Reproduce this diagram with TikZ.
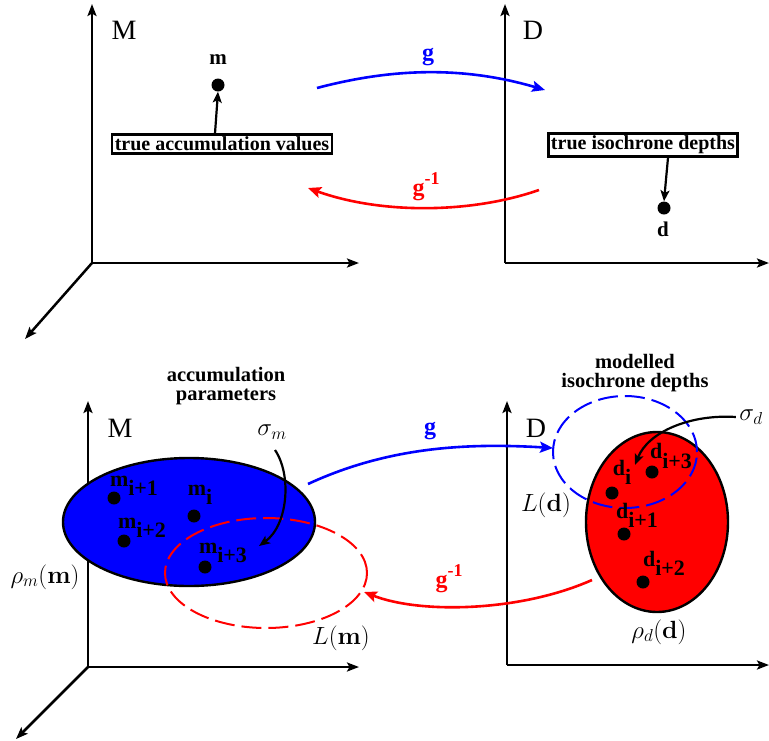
\documentclass[tikz,border=0pt]{standalone}
\usepackage[no-math]{fontspec}
\setmainfont{Liberation Serif}
\usetikzlibrary{arrows.meta,shapes.geometric}
\newcommand\bsub[2]{\textbf{#1}\raisebox{-0.42em}{\textbf{#2}}}
\newcommand\ginv{\textbf{g}\raisebox{0.45em}{\fontsize{18}{18}\selectfont\textbf{-1}}}
\begin{document}
\begin{tikzpicture}[x=1pt,y=-1pt,
  axis/.style={line width=2.5pt,-{Stealth[length=12pt,width=9pt,inset=2.5pt]}},
  pointer/.style={line width=2.2pt,-{Stealth[length=11pt,width=9pt,inset=2.5pt]}},
  map/.style={line width=2.6pt,-{Stealth[length=13pt,width=11pt,inset=2.5pt]}},
  dot/.style={circle,fill=black,inner sep=0pt,minimum size=13pt},
  lbox/.style={draw,line width=2.2pt,inner sep=2.5pt,font=\fontsize{20}{22}\selectfont\bfseries},
  axlab/.style={font=\fontsize{28}{30}\selectfont},
  ptlab/.style={font=\fontsize{21}{22}\selectfont},
  mlab/.style={font=\fontsize{22}{24}\selectfont},
  mathlab/.style={font=\fontsize{24}{26}\selectfont},
  title/.style={font=\fontsize{20.5}{19}\selectfont\bfseries,align=center}]
\useasboundingbox (0,0) rectangle (769,740);

% ---------------- top panel ----------------
\coordinate (o1) at (92,263);
\coordinate (o1y) at (92,4);
\coordinate (o1x) at (359,263);
\coordinate (o1z) at (25,339);
\draw[axis] (o1) -- (o1y);
\draw[axis] (o1) -- (o1x);
\draw[axis] (o1) -- (o1z);
\node[axlab] (M1) at (124,30) {M};

\coordinate (o2) at (505,263);
\coordinate (o2y) at (505,4);
\coordinate (o2x) at (769,263);
\draw[axis] (o2) -- (o2y);
\draw[axis] (o2) -- (o2x);
\node[axlab] (D1) at (533,30) {D};

\node[dot] (m) at (218,85) {};
\node[ptlab] (mlab) at (218,60) {\textbf{m}};
\node[lbox] (tav) at (222,144) {true accumulation values};
\draw[pointer] (tav.north -| 215,0) -- (m.south);

\node[dot] (d) at (664,208) {};
\node[ptlab] (dlab) at (663,229) {\textbf{d}};
\node[lbox] (tid) at (643,145) {true isochrone depths};
\draw[pointer] (tid.south -| 668,0) -- (d.north);

\coordinate (g1s) at (317,88);
\coordinate (g1e) at (545,90);
\draw[map,blue] (g1s) .. controls (400,66) and (470,68) .. (g1e);
\node[font=\fontsize{24}{24}\selectfont,text=blue] (g1) at (428,57) {\textbf{g}};

\coordinate (h1s) at (539,190);
\coordinate (h1e) at (308,188);
\draw[map,red] (h1s) .. controls (470,214) and (380,214) .. (h1e);
\node[font=\fontsize{24}{24}\selectfont,text=red] (h1) at (426,187) {\ginv};

% ---------------- bottom panel ----------------
\coordinate (o3) at (88,667);
\coordinate (o3y) at (88,401);
\coordinate (o3x) at (359,667);
\coordinate (o3z) at (16,739);
\draw[axis] (o3) -- (o3y);
\draw[axis] (o3) -- (o3x);
\draw[axis] (o3) -- (o3z);
\node[axlab] (M2) at (120,428) {M};
\node[title] (ap) at (226,386) {accumulation\\parameters};

\coordinate (o4) at (507,665);
\coordinate (o4y) at (507,401);
\coordinate (o4x) at (769,665);
\draw[axis] (o4) -- (o4y);
\draw[axis] (o4) -- (o4x);
\node[axlab] (D2) at (536,428) {D};
\node[title] (mid) at (635,373) {modelled\\isochrone depths};

% blue ellipse (prior in M)
\node[ellipse,draw,line width=2.4pt,fill=blue,minimum width=252pt,minimum height=128pt] (rm) at (189,522) {};
\node[dot] (mi1) at (114,498) {};
\node[dot] (mi) at (194,516) {};
\node[dot] (mi2) at (124,541) {};
\node[dot] (mi3) at (205,567) {};
\node[mlab] (lmi1) at (134,486) {\bsub{m}{i+1}};
\node[mlab] (lmi) at (200,495) {\bsub{m}{i}};
\node[mlab] (lmi2) at (142,528) {\bsub{m}{i+2}};
\node[mlab] (lmi3) at (223,553) {\bsub{m}{i+3}};

% red dashed ellipse L(m)
\node[ellipse,draw=red,line width=2pt,dash pattern=on 20pt off 7pt,minimum width=202pt,minimum height=110pt] (Lm) at (266,573) {};

\node[mathlab] (sm) at (272,432) {$\sigma_m$};
\draw[pointer] (275,450) .. controls (292,475) and (288,525) .. (259,546);
\node[mathlab] (rhom) at (45,577) {$\rho_m(\mathbf{m})$};
\node[mathlab] (Lml) at (341,638) {$L(\mathbf{m})$};

% red ellipse (data)
\node[ellipse,draw,line width=2.4pt,fill=red,minimum width=142pt,minimum height=180pt] (rd) at (657,522) {};
% blue dashed ellipse L(d)
\node[ellipse,draw=blue,line width=2pt,dash pattern=on 20pt off 7pt,minimum width=144pt,minimum height=112pt] (Ld) at (625,452) {};
\node[dot] (di) at (612,493) {};
\node[dot] (di3) at (652,472) {};
\node[dot] (di1) at (624,534) {};
\node[dot] (di2) at (643,582) {};
\node[mlab] (ldi) at (622,472) {\bsub{d}{i}};
\node[mlab] (ldi3) at (671,456) {\bsub{d}{i+3}};
\node[mlab] (ldi1) at (637,515) {\bsub{d}{i+1}};
\node[mlab] (ldi2) at (664,563) {\bsub{d}{i+2}};

\node[mathlab] (sd) at (751,417) {$\sigma_d$};
\draw[pointer] (sd.west) .. controls (690,414) and (648,432) .. (635,465);
\node[mathlab] (Ldl) at (546,505) {$L(\mathbf{d})$};
\node[mathlab] (rhod) at (659,632) {$\rho_d(\mathbf{d})$};

\coordinate (g2s) at (308,484);
\coordinate (g2e) at (553,448);
\draw[map,blue] (g2s) .. controls (390,446) and (470,443) .. (g2e);
\node[font=\fontsize{24}{24}\selectfont,text=blue] (g2) at (430,431) {\textbf{g}};

\coordinate (h2s) at (592,580);
\coordinate (h2e) at (364,592);
\draw[map,red] (h2s) .. controls (520,612) and (420,614) .. (h2e);
\node[font=\fontsize{24}{24}\selectfont,text=red] (h2) at (449,579) {\ginv};
\end{tikzpicture}
\end{document}
